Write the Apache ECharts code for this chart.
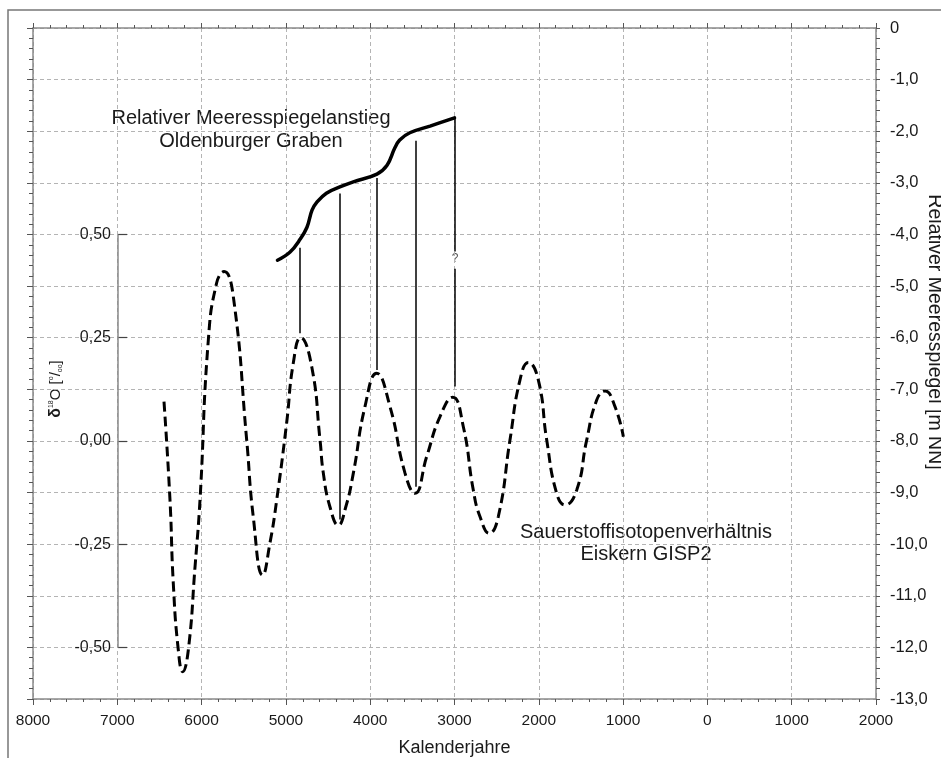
<!DOCTYPE html>
<html>
<head>
<meta charset="utf-8">
<script src="https://cdn.jsdelivr.net/npm/echarts@6/dist/echarts.min.js"></script>
<style>
  html, body { margin: 0; padding: 0; background: #fff; }
  #chart { width: 941px; height: 758px; }
</style>
</head>
<body>
<div id="chart"></div>
<script>
// Kalenderjahre (negative = v. Chr.)
var seaYears = [-5100, -4950, -4830, -4750, -4690, -4630, -4520, -4360, -4200, -3920, -3800, -3710, -3650, -3530, -3290, -3000];
// Relativer Meeresspiegel [m NN]
var seaLevel = [-4.5, -4.34, -4.09, -3.86, -3.53, -3.37, -3.2, -3.08, -2.98, -2.83, -2.66, -2.33, -2.17, -2.03, -1.9, -1.74];

// GISP2 delta 18O [per mil]
var isoYears = [-6446, -6375, -6336, -6276, -6224, -6158, -6078, -6019, -5920, -5821, -5734, -5624, -5465, -5387, -5275, -5189, -5109,
  -4991, -4912, -4825, -4694, -4595, -4556, -4477, -4378, -4290, -4200, -4062, -3923, -3765, -3587, -3469, -3330, -3172, -3021,
  -2896, -2777, -2698, -2587, -2480, -2342, -2223, -2124, -2006, -1906, -1788, -1689, -1550, -1432, -1313, -1215, -1096, -997];
var isoValues = [0.095, -0.143, -0.344, -0.507, -0.559, -0.507, -0.305, -0.143, 0.245, 0.383, 0.41, 0.35, 0.002, -0.184, -0.325, -0.247, -0.143,
  0.044, 0.189, 0.25, 0.18, 0.002, -0.078, -0.16, -0.204, -0.16, -0.078, 0.083, 0.164, 0.083, -0.078, -0.127, -0.038, 0.059, 0.106,
  0.035, -0.119, -0.183, -0.224, -0.183, 0.002, 0.148, 0.19, 0.148, 0.002, -0.127, -0.155, -0.119, 0.002, 0.099, 0.121, 0.083, 0.01];

// Verbindungslinien (in delta 18O units)
var linkYears = [-4830, -4367, -3923, -3460, -3000, -3000];
var linkTop = [0.468, 0.599, 0.637, 0.727, 0.783, 0.417];
var linkBottom = [0.261, -0.19, 0.172, -0.111, 0.459, 0.132];

var xTicks = [-8000, 2000];
var levelTicks = [-13, 0];
var isoTicks = [-0.5, -0.25, 0, 0.25, 0.5];

var FONT = 'Liberation Sans, Arial, sans-serif';
var TXT = '#1a1a1a';
var AXIS = '#8a8a8a';
var GRID = '#b4b4b4';

function zip(a, b) {
  return a.map(function (v, i) { return [v, b[i]]; });
}

var links = linkYears.map(function (y, i) {
  return { coords: [[y, linkTop[i]], [y, linkBottom[i]]] };
});

var chart = echarts.init(document.getElementById('chart'));

chart.setOption({
  backgroundColor: '#fff',
  animation: false,
  grid: { left: 33, right: 65, top: 28, bottom: 59, outerBoundsMode: 'none' },
  xAxis: [{
    type: 'value', position: 'bottom',
    min: xTicks[0], max: xTicks[1], interval: 1000,
    axisLine: { onZero: false, lineStyle: { color: AXIS, width: 1.5 } },
    axisTick: { length: 6, lineStyle: { color: '#555' } },
    minorTick: { show: true, splitNumber: 5, length: 3, lineStyle: { color: '#555' } },
    axisLabel: {
      margin: 14, color: TXT, fontFamily: FONT, fontSize: 15.5,
      showMinLabel: true, showMaxLabel: true,
      formatter: function (v) { return String(Math.abs(v)); }
    },
    splitLine: { show: true, lineStyle: { color: GRID, type: [4, 3] } },
    name: 'Kalenderjahre', nameLocation: 'middle', nameGap: 40,
    nameTextStyle: { color: TXT, fontFamily: FONT, fontSize: 18 }
  }, {
    type: 'value', position: 'top',
    min: xTicks[0], max: xTicks[1], interval: 1000,
    axisLine: { onZero: false, lineStyle: { color: AXIS, width: 1.5 } },
    axisTick: { length: 5, lineStyle: { color: '#555' } },
    minorTick: { show: true, splitNumber: 5, length: 3, lineStyle: { color: '#555' } },
    axisLabel: { show: false },
    splitLine: { show: false }
  }],
  yAxis: [{
    type: 'value', position: 'right',
    min: levelTicks[0], max: levelTicks[1], interval: 1,
    axisLine: { onZero: false, lineStyle: { color: AXIS, width: 1.5 } },
    axisTick: { length: 4, lineStyle: { color: '#555' } },
    minorTick: { show: true, splitNumber: 5, length: 4, lineStyle: { color: '#555' } },
    axisLabel: {
      margin: 14, color: TXT, fontFamily: FONT, fontSize: 16.5,
      formatter: function (v) { return v === 0 ? '0' : v.toFixed(1).replace('.', ','); }
    },
    splitLine: { show: true, lineStyle: { color: GRID, type: [4, 3] } }
  }, {
    type: 'value', position: 'left',
    min: levelTicks[0], max: levelTicks[1], interval: 1,
    axisLine: { onZero: false, lineStyle: { color: AXIS, width: 1.5 } },
    axisTick: { length: 6, lineStyle: { color: '#555' } },
    minorTick: { show: true, splitNumber: 5, length: 4, lineStyle: { color: '#555' } },
    axisLabel: { show: false },
    splitLine: { show: false }
  }, {
    type: 'value', position: 'left', offset: -85,
    min: -0.625, max: 1.0,
    axisLine: { show: false, onZero: false },
    axisTick: { show: true, inside: true, length: 9, customValues: isoTicks, lineStyle: { color: '#444', width: 1.2 } },
    axisLabel: {
      customValues: isoTicks, margin: 7, color: TXT, fontFamily: FONT, fontSize: 16,
      formatter: function (v) { return v.toFixed(2).replace('.', ','); }
    },
    splitLine: { show: false }
  }],
  graphic: [
    { type: 'rect', shape: { x: 8, y: 10, width: 1000, height: 1000 }, style: { fill: null, stroke: '#777', lineWidth: 1.5 }, silent: true },
    { type: 'text', x: 251, y: 130, style: { text: 'Relativer Meeresspiegelanstieg\nOldenburger Graben', fill: TXT, font: '20px ' + FONT, align: 'center', verticalAlign: 'middle', lineHeight: 23 } },
    { type: 'text', x: 646, y: 543, style: { text: 'Sauerstoffisotopenverhältnis\nEiskern GISP2', fill: TXT, font: '20px ' + FONT, align: 'center', verticalAlign: 'middle', lineHeight: 22 } },
    { type: 'text', x: 455, y: 259, style: { text: '?', fill: '#555', font: '12px ' + FONT, align: 'center', verticalAlign: 'middle' } },
    { type: 'text', x: 934, y: 332, rotation: -Math.PI / 2, style: { text: 'Relativer Meeresspiegel [m NN]', fill: TXT, font: '19.5px ' + FONT, align: 'center', verticalAlign: 'middle' } },
    {
      type: 'text', x: 56, y: 389, rotation: Math.PI / 2,
      style: {
        text: '{d|δ}{sup|18}{n|O [}{sup|o}{n|/}{sub|oo}{n|]}',
        align: 'center', verticalAlign: 'middle',
        rich: {
          d: { fontFamily: FONT, fontSize: 16, fontWeight: 'bold', fill: TXT },
          n: { fontFamily: FONT, fontSize: 15, fill: TXT },
          sup: { fontFamily: FONT, fontSize: 7, fill: TXT, verticalAlign: 'top' },
          sub: { fontFamily: FONT, fontSize: 7, fill: TXT, verticalAlign: 'bottom' }
        }
      }
    }
  ],
  series: [{
    type: 'lines', coordinateSystem: 'cartesian2d', xAxisIndex: 0, yAxisIndex: 2,
    silent: true, z: 1,
    lineStyle: { color: AXIS, width: 1.5, opacity: 1 },
    data: [{ coords: [[-7000, isoTicks[0]], [-7000, isoTicks[isoTicks.length - 1]]] }]
  }, {
    type: 'lines', coordinateSystem: 'cartesian2d', xAxisIndex: 0, yAxisIndex: 2,
    silent: true, z: 3,
    lineStyle: { color: '#000', width: 1.5, opacity: 1 },
    data: links
  }, {
    name: 'Meeresspiegel', type: 'line', xAxisIndex: 0, yAxisIndex: 0,
    data: zip(seaYears, seaLevel), smooth: 0.4, showSymbol: false, symbol: 'none',
    lineStyle: { color: '#000', width: 3.5, cap: 'round' }, z: 4
  }, {
    name: 'GISP2', type: 'line', xAxisIndex: 0, yAxisIndex: 2,
    data: zip(isoYears, isoValues), smooth: 0.5, showSymbol: false, symbol: 'none',
    lineStyle: { color: '#000', width: 3, type: [10, 5] }, z: 4
  }]
});
</script>
</body>
</html>
